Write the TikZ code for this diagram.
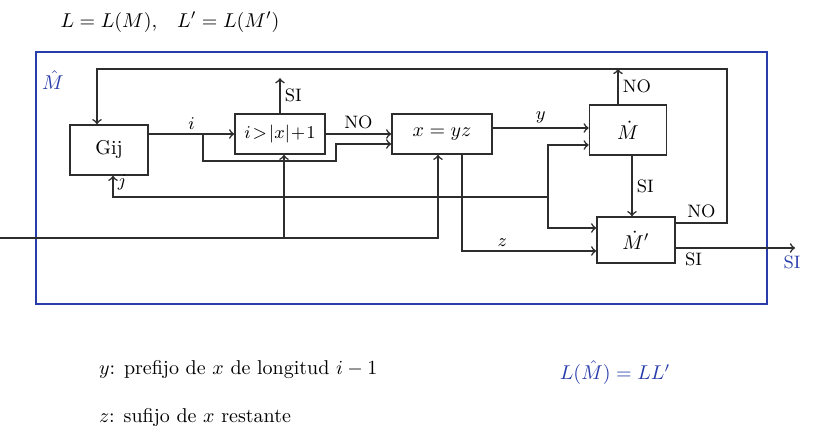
\documentclass[tikz,border=0pt]{standalone}
\usepackage{amsmath}
\usepackage{tikz}
\usetikzlibrary{positioning}

\definecolor{penblue}{RGB}{40,60,170}
\definecolor{penblack}{RGB}{45,45,45}

\tikzset{
  block/.style={draw=penblack, line width=0.8pt, inner sep=0pt},
  flow/.style={draw=penblack, line width=0.8pt},
  tag/.style={font=\small, inner sep=2pt},
  bluetext/.style={text=penblue}
}

\begin{document}
\begin{tikzpicture}[x=0.5pt,y=-0.5pt]
\useasboundingbox (0,0) rectangle (821,432);
\newcommand{\topy}{69}
\newcommand{\iny}{238}

\draw[penblue, line width=0.8pt] (36,52) rectangle (767,304);
\node[bluetext] (mhat) at (53,80) {$\hat{M}$};
\node (title) at (170,22) {$L = L(M)$,\quad $L' = L(M')$};

\node[block, minimum width=39pt, minimum height=25pt] (gen) at (109,150) {Gij};
\node[block, minimum width=45pt, minimum height=20pt] (test) at (280,134) {\small $i\!>\!|x|\!+\!1$};
\node[block, minimum width=50pt, minimum height=20pt] (split) at (442,134) {$x=yz$};
\node[block, minimum width=38.5pt, minimum height=25pt] (mach) at (628,130) {$\dot{M}$};
\node[block, minimum width=39pt, minimum height=23pt] (machp) at (636,240) {$\dot{M}'$};

\coordinate (ibr) at (203,134);
\coordinate (inp) at (0,\iny);
\coordinate (inbr) at (284,\iny);
\coordinate (jbr) at (548,197);
\coordinate (vb) at (548,228);
\coordinate (tr) at (727,\topy);
\coordinate (out) at (795,248);

\draw[flow,->] (gen.east |- test.west) -- (test.west) node[tag,midway,above] {$i$};
\draw[flow,->] (ibr) |- (336,161) |- ([yshift=-5pt]split.west);
\draw[flow,->] (test.east) -- (split.west) node[tag,midway,above] {NO};
\draw[flow,->] (test.north) -- ++(0,-35) node[tag,midway,right] {SI};

\draw[flow,->] (inp) -| ([xshift=-2pt]split.south);
\draw[flow,->] (inbr) -- (inbr |- test.south);

\draw[flow,->] (jbr) -| ([xshift=2pt]gen.south) node[tag,pos=0.85,right] {$j$};
\draw[flow,<->] ([yshift=-7.5pt]mach.west) -| (vb) -- (vb -| machp.west);

\draw[flow,->] ([yshift=3pt]split.east) -- ([yshift=3pt]split.east -| mach.west) node[tag,midway,above] {$y$};
\draw[flow,->] ([xshift=10pt]split.south) |- ([yshift=-5.5pt]machp.west) node[tag,pos=0.65,above] {$z$};

\draw[flow,->] ([xshift=2pt]mach.south) -- ([xshift=2pt]mach.south |- machp.north) node[tag,midway,right] {SI};
\draw[flow,->] ([xshift=-5pt]mach.north) -- ([xshift=-5pt]mach.north |- tr) node[tag,midway,right] {NO};
\draw[flow,->] ([yshift=8.5pt]machp.east) -| (tr) node[tag,pos=0.25,above] {NO} -| ([xshift=-6pt]gen.north);
\draw[flow,->] ([yshift=-4pt]machp.east) -- (out) node[tag,pos=0.15,below] {SI};
\node[bluetext, tag] (yes) at (792,262) {SI};

\node[anchor=west] (ydef) at (92,370) {$y$: prefijo de $x$ de longitud $i-1$};
\node[anchor=west] (zdef) at (92,418) {$z$: sufijo de $x$ restante};
\node[bluetext] (lang) at (615,373) {$L(\hat{M}) = LL'$};
\end{tikzpicture}
\end{document}
